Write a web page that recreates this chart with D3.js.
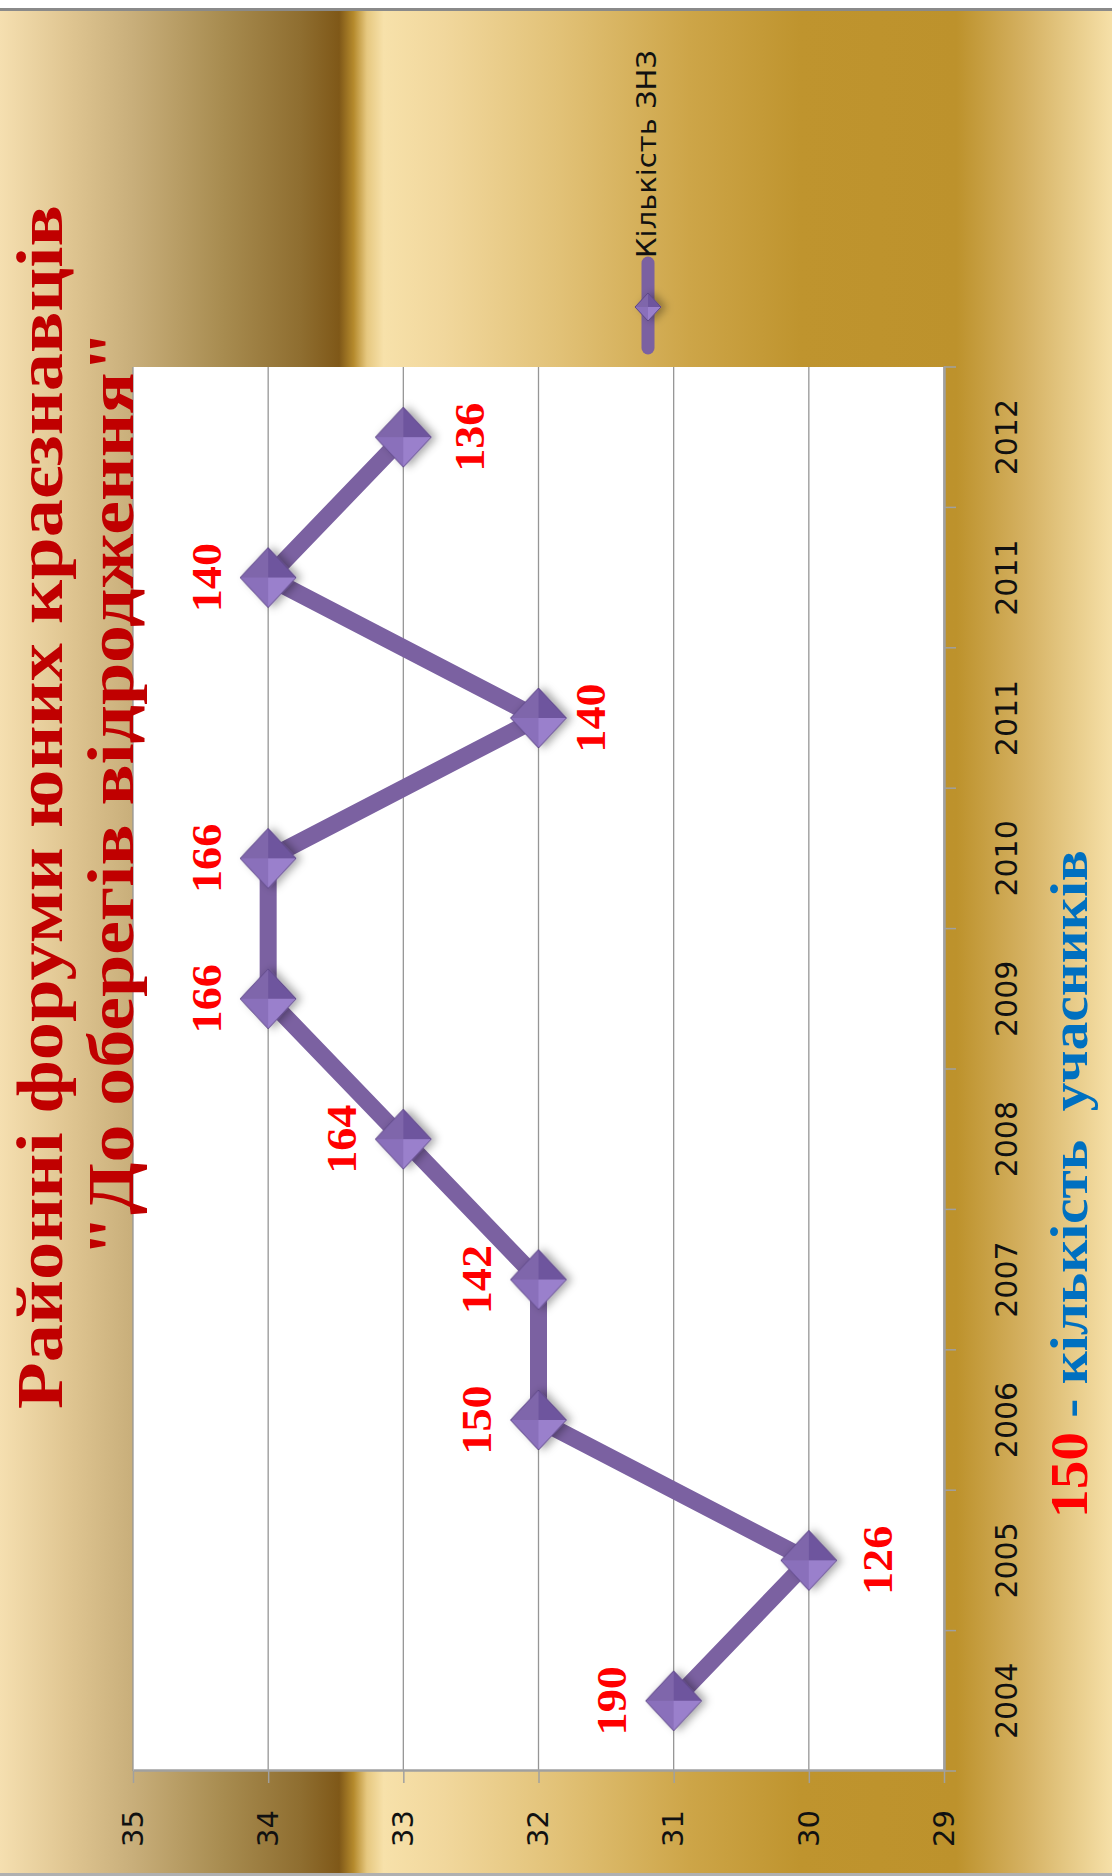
<!DOCTYPE html>
<html>
<head>
<meta charset="utf-8">
<script src="https://cdn.jsdelivr.net/npm/d3@7"></script>
<style>
body { margin: 0; background: #fff; }
</style>
</head>
<body>
<script>
// data
var years = ["2004", "2005", "2006", "2007", "2008", "2009", "2010", "2011", "2011", "2012"];
var schools = [31, 30, 32, 32, 33, 34, 34, 32, 34, 33];       // Кількість ЗНЗ
var pupils = [190, 126, 150, 142, 164, 166, 166, 140, 140, 136]; // кількість учасників
var valueTicks = [29, 30, 31, 32, 33, 34, 35];
var titleLines = ["Районні форуми юних краєзнавців", "\"До оберегів відродження\""];
var seriesName = "Кількість ЗНЗ";

// where each label sits from its point (negative = above)
var labelDy = [-62, 68, -62, -62, -62, -62, -62, 52, -62, 66];

var W = 1112, H = 1876;

var svg = d3.select("body").append("svg")
    .attr("width", W)
    .attr("height", H);

var defs = svg.append("defs");

// gold background, runs across the page
var grad = defs.append("linearGradient")
    .attr("id", "gold")
    .attr("x1", 0).attr("y1", 0).attr("x2", 1).attr("y2", 0);
[
    [0, "#f5dfb0"], [0.06, "#e0c692"], [0.12, "#c8ae7a"], [0.2, "#a88c50"],
    [0.27, "#8f6e30"], [0.305, "#7f5818"], [0.318, "#b58a2c"], [0.33, "#e6c880"],
    [0.345, "#f7e1aa"], [0.4, "#f1d79c"], [0.5, "#e2c278"], [0.62, "#cda548"],
    [0.72, "#bf942e"], [0.86, "#bd922c"], [0.92, "#d4b060"], [1, "#f6e0a8"]
].forEach(function(s) {
    grad.append("stop").attr("offset", s[0]).attr("stop-color", s[1]);
});

var shadow = defs.append("filter").attr("id", "shadow")
    .attr("x", "-50%").attr("y", "-50%").attr("width", "200%").attr("height", "200%");
shadow.append("feDropShadow")
    .attr("dx", 0).attr("dy", 5).attr("stdDeviation", 4)
    .attr("flood-color", "#000").attr("flood-opacity", 0.35);

svg.append("rect").attr("x", 0).attr("y", 11).attr("width", W).attr("height", H - 14)
    .attr("fill", "url(#gold)");
svg.append("rect").attr("x", 0).attr("y", 8).attr("width", W).attr("height", 3).attr("fill", "#8a8a8a");
svg.append("rect").attr("x", 0).attr("y", H - 3).attr("width", W).attr("height", 3).attr("fill", "#b0b0b0");

// the whole chart is turned a quarter round, so draw it flat and rotate
var g = svg.append("g")
    .attr("transform", "translate(0," + H + ") rotate(-90)");

var plotL = 105, plotR = 1509, plotT = 133, plotB = 944;

var x = d3.scaleBand().domain(d3.range(years.length)).range([plotL, plotR]);
var y = d3.scaleLinear().domain([29, 35]).range([plotB, plotT]);
var bw = x.bandwidth();

g.append("rect")
    .attr("x", plotL).attr("y", plotT)
    .attr("width", plotR - plotL).attr("height", plotB - plotT)
    .attr("fill", "#fff");

// gridlines
g.append("g").selectAll("line")
    .data(valueTicks)
    .enter().append("line")
    .attr("x1", plotL).attr("x2", plotR)
    .attr("y1", function(d) { return y(d); })
    .attr("y2", function(d) { return y(d); })
    .attr("stroke", "#969696").attr("stroke-width", 1.3);

// value axis
var yAxis = g.append("g")
    .attr("transform", "translate(" + plotL + ",0)")
    .call(d3.axisLeft(y).tickValues(valueTicks).tickFormat(d3.format("d"))
        .tickSize(12).tickSizeOuter(0).tickPadding(27));
yAxis.select(".domain").attr("stroke", "#a0a0a0").attr("stroke-width", 2.5);
yAxis.selectAll(".tick line").attr("stroke", "#a0a0a0").attr("stroke-width", 1.5);
yAxis.selectAll(".tick text")
    .attr("font-family", "DejaVu Sans").attr("font-size", 29).attr("fill", "#111");

// category axis
var xAxis = g.append("g")
    .attr("transform", "translate(0," + plotB + ")")
    .call(d3.axisBottom(x).tickSize(0).tickSizeOuter(0).tickPadding(52)
        .tickFormat(function(i) { return years[i]; }));
xAxis.select(".domain").attr("stroke", "#a0a0a0").attr("stroke-width", 2.5);
xAxis.selectAll(".tick text")
    .attr("font-family", "DejaVu Sans").attr("font-size", 30).attr("fill", "#111");
xAxis.selectAll(".bound")
    .data(d3.range(years.length + 1))
    .enter().append("line")
    .attr("x1", function(i) { return plotL + i * bw; })
    .attr("x2", function(i) { return plotL + i * bw; })
    .attr("y1", 0).attr("y2", 12)
    .attr("stroke", "#a0a0a0").attr("stroke-width", 1.5);

// series line
var cx = function(i) { return x(i) + bw / 2; };
var line = d3.line()
    .x(function(d, i) { return cx(i); })
    .y(function(d) { return y(d); });

g.append("path")
    .datum(schools)
    .attr("d", line)
    .attr("fill", "none")
    .attr("stroke", "#7b61a1")
    .attr("stroke-width", 17)
    .attr("stroke-linejoin", "round");

// bevelled diamond marker
function diamond(sel, a, b) {
    var facets = [
        [[0, -b], [a, 0], "#7f66ab"],
        [[a, 0], [0, b], "#6e559e"],
        [[0, b], [-a, 0], "#9a80cc"],
        [[-a, 0], [0, -b], "#8a70bb"]
    ];
    var m = sel.append("g").attr("filter", "url(#shadow)");
    m.append("path")
        .attr("d", "M0," + (-b) + "L" + a + ",0L0," + b + "L" + (-a) + ",0Z")
        .attr("fill", "#7b61a1");
    facets.forEach(function(f) {
        m.append("path")
            .attr("d", "M0,0L" + f[0][0] + "," + f[0][1] + "L" + f[1][0] + "," + f[1][1] + "Z")
            .attr("fill", f[2]);
    });
    m.append("path")
        .attr("d", "M0," + (-b) + "L" + a + ",0L0," + b + "L" + (-a) + ",0Z")
        .attr("fill", "none").attr("stroke", "#5d4786").attr("stroke-width", 1);
}

g.append("g").selectAll("g")
    .data(schools)
    .enter().append("g")
    .attr("transform", function(d, i) { return "translate(" + cx(i) + "," + y(d) + ")"; })
    .each(function() { diamond(d3.select(this), 30, 28); });

// data labels: number of pupils
g.append("g").selectAll("text")
    .data(pupils)
    .enter().append("text")
    .attr("transform", function(d, i) {
        return "translate(" + cx(i) + "," + (y(schools[i]) + labelDy[i]) + ") scale(1.1,1)";
    })
    .attr("text-anchor", "middle")
    .attr("dy", "0.35em")
    .attr("font-family", "Liberation Serif").attr("font-weight", "bold")
    .attr("font-size", 42).attr("fill", "#ff0000")
    .text(function(d) { return d; });

// stretch a text to a width
function fitText(t, x0, width, y0) {
    var w = t.node().getComputedTextLength();
    t.attr("transform", "translate(" + x0 + "," + y0 + ") scale(" + (width / w) + ",1)");
}

// title
var titleSpec = [[467, 1204, 62], [619, 927, 133]];
titleLines.forEach(function(s, i) {
    var t = g.append("text")
        .attr("font-family", "Liberation Serif").attr("font-weight", "bold")
        .attr("font-size", 66).attr("fill", "#c00000")
        .text(s);
    fitText(t, titleSpec[i][0], titleSpec[i][1], titleSpec[i][2]);
});

// legend
var leg = g.append("g");
leg.append("line")
    .attr("x1", 1528).attr("x2", 1613).attr("y1", 648).attr("y2", 648)
    .attr("stroke", "#7b61a1").attr("stroke-width", 13).attr("stroke-linecap", "round");
var lm = leg.append("g").attr("transform", "translate(1569,648)");
diamond(lm, 14, 13);
var lt = leg.append("text")
    .attr("font-family", "DejaVu Sans").attr("font-size", 26).attr("fill", "#111")
    .text(seriesName);
fitText(lt, 1618, 208, 656);

// note under the axis
var note = g.append("text")
    .attr("font-family", "Liberation Serif").attr("font-weight", "bold")
    .attr("font-size", 52).style("white-space", "pre");
note.append("tspan").attr("fill", "#ff0000").text("150");
note.append("tspan").attr("fill", "#0070c0").text(" - кількість  учасників");
fitText(note, 358, 668, 1087);
</script>
</body>
</html>
